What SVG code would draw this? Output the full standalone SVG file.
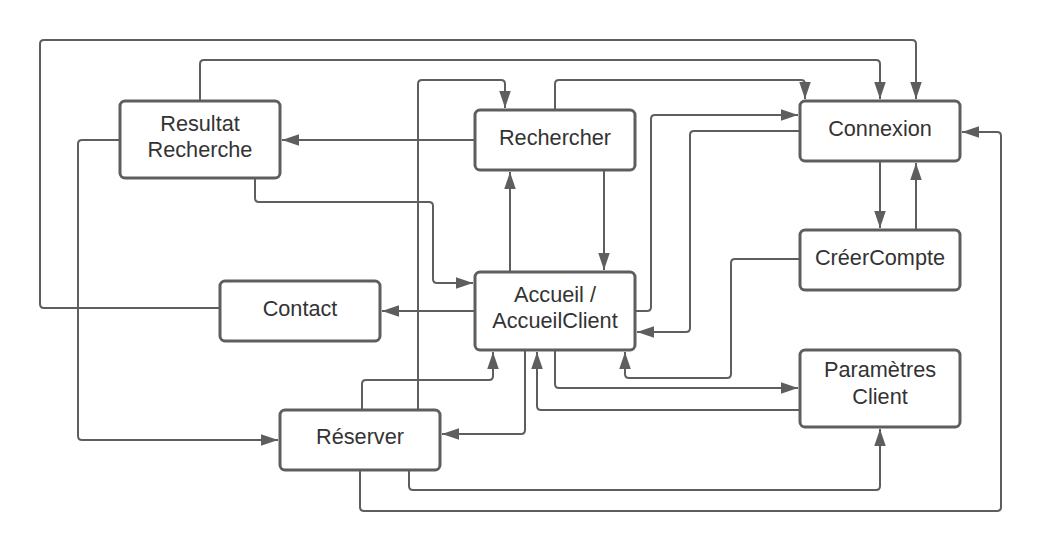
<svg xmlns="http://www.w3.org/2000/svg" width="1042" height="552" viewBox="0 0 1042 552">
<style>
.box{fill:#ffffff;stroke:#5e5e5e;stroke-width:3}
.lbl{font-family:"Liberation Sans",Arial,sans-serif;font-size:21.7px;fill:#333333;text-anchor:middle}
.c{fill:none;stroke:#5e5e5e;stroke-width:2;marker-end:url(#arr)}
</style>
<defs>
<marker id="arr" markerUnits="userSpaceOnUse" markerWidth="18" markerHeight="12" refX="17" refY="5.75" orient="auto">
<path d="M0,0 L17,5.75 L0,11.5 z" fill="#5e5e5e"/>
</marker>
</defs>
<rect width="1042" height="552" fill="#ffffff"/>
<g id="connectors">
<path class="c" d="M220,308 H44 Q40,308 40,304 V44 Q40,40 44,40 H912 Q916,40 916,44 V99"/>
<path class="c" d="M200,101 V64 Q200,60 204,60 H876 Q880,60 880,64 V99"/>
<path class="c" d="M555,110 V84 Q555,80 559,80 H801 Q805,80 805,84 V99"/>
<path class="c" d="M418,410 V84 Q418,80 422,80 H501 Q505,80 505,84 V108"/>
<path class="c" d="M635,311 H647 Q651,311 651,307 V119 Q651,115 655,115 H798"/>
<path class="c" d="M800,131 H694 Q690,131 690,135 V328 Q690,332 686,332 H637"/>
<path class="c" d="M880,161 V228"/>
<path class="c" d="M916,230 V163"/>
<path class="c" d="M360,470 V507 Q360,511 364,511 H997 Q1001,511 1001,507 V136 Q1001,132 997,132 H962"/>
<path class="c" d="M800,259 H735 Q731,259 731,263 V374 Q731,378 727,378 H629 Q625,378 625,374 V352"/>
<path class="c" d="M555,350 V384 Q555,388 559,388 H798"/>
<path class="c" d="M800,410 H541 Q537,410 537,406 V352"/>
<path class="c" d="M525,350 V430 Q525,434 521,434 H442"/>
<path class="c" d="M409,470 V486 Q409,490 413,490 H876 Q880,490 880,486 V429"/>
<path class="c" d="M362,410 V384 Q362,380 366,380 H489 Q493,380 493,376 V352"/>
<path class="c" d="M475,311 H382"/>
<path class="c" d="M604,170 V270"/>
<path class="c" d="M510,272 V172"/>
<path class="c" d="M475,140 H282"/>
<path class="c" d="M255,178 V198 Q255,202 259,202 H429 Q433,202 433,206 V279 Q433,283 437,283 H473"/>
<path class="c" d="M120,140 H82 Q78,140 78,144 V436 Q78,440 82,440 H278"/>
</g>
<g id="resultat">
<rect class="box" x="120" y="101" width="160" height="77" rx="5"/>
<text class="lbl" x="200" y="131">Resultat</text>
<text class="lbl" x="200" y="157">Recherche</text>
</g>
<g id="rechercher">
<rect class="box" x="475" y="110" width="160" height="60" rx="5"/>
<text class="lbl" x="555" y="145">Rechercher</text>
</g>
<g id="connexion">
<rect class="box" x="800" y="101" width="160" height="60" rx="5"/>
<text class="lbl" x="880" y="136">Connexion</text>
</g>
<g id="creercompte">
<rect class="box" x="800" y="230" width="160" height="60" rx="5"/>
<text class="lbl" x="880" y="265">CréerCompte</text>
</g>
<g id="contact">
<rect class="box" x="220" y="281" width="160" height="60" rx="5"/>
<text class="lbl" x="300" y="316">Contact</text>
</g>
<g id="accueil">
<rect class="box" x="475" y="272" width="160" height="78" rx="5"/>
<text class="lbl" x="555" y="302">Accueil /</text>
<text class="lbl" x="555" y="328">AccueilClient</text>
</g>
<g id="parametres">
<rect class="box" x="800" y="350" width="160" height="77" rx="5"/>
<text class="lbl" x="880" y="377">Paramètres</text>
<text class="lbl" x="880" y="404">Client</text>
</g>
<g id="reserver">
<rect class="box" x="280" y="410" width="160" height="60" rx="5"/>
<text class="lbl" x="360" y="444">Réserver</text>
</g>
</svg>
